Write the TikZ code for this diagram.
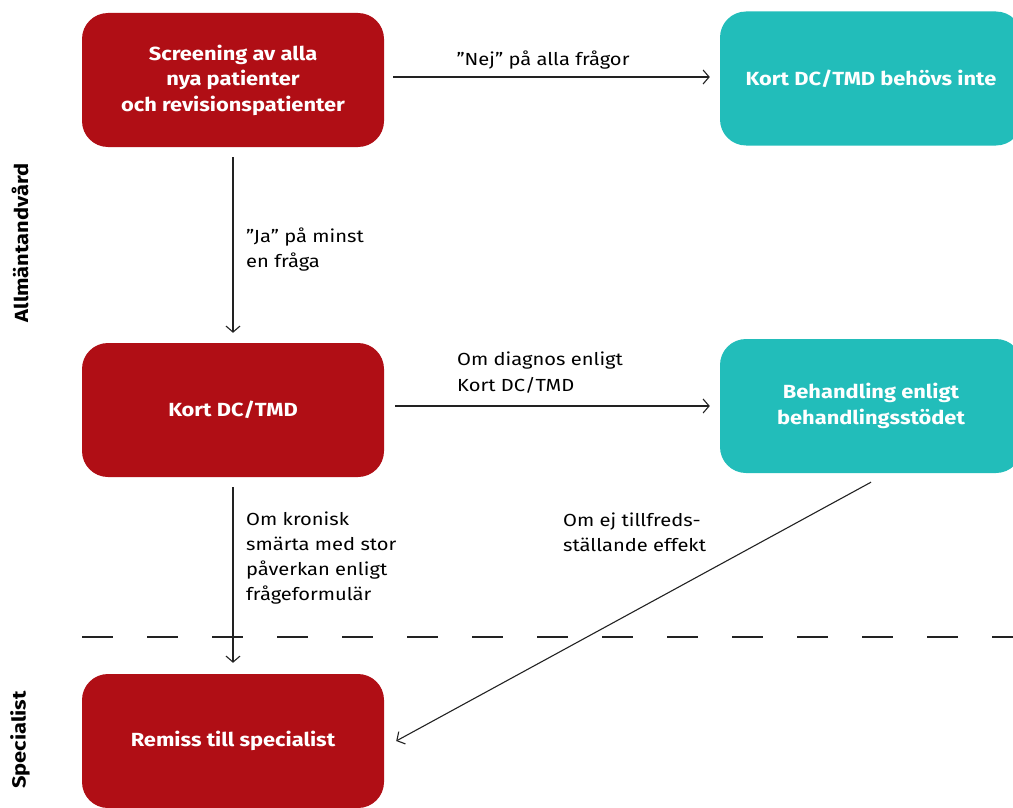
\documentclass[tikz,border=0pt]{standalone}
\usepackage{fontspec}
\setmainfont{Fira Sans}[FakeStretch=1.15]
\usetikzlibrary{arrows.meta}
\definecolor{dred}{HTML}{B00E15}
\definecolor{teal2}{HTML}{22BDBA}
\definecolor{lin}{HTML}{222222}
\begin{document}
\begin{tikzpicture}[x=1pt,y=-1pt,
  redbox/.style={fill=dred,rounded corners=26pt,minimum width=302pt,minimum height=134pt,inner sep=0pt,
    text=white,align=center,font=\fontsize{19}{25.5}\selectfont\bfseries},
  tealbox/.style={redbox,fill=teal2},
  lbl/.style={inner sep=0pt,anchor=west,align=left,text=black,font=\fontsize{17.5}{25.3}\selectfont},
  side/.style={inner sep=0pt,rotate=90,font=\fontsize{19}{22}\selectfont\bfseries},
  arr/.style={draw=lin,line width=1.1pt,-{Straight Barb[length=6pt,width=14pt,line width=1.1pt]}}]
\useasboundingbox (0,0) rectangle (1013,808);
\clip (0,0) rectangle (1013,808);
\node[redbox] (s) at (233,80) {Screening av alla\\nya patienter\\och revisionspatienter};
\node[tealbox] (n) at (871,78.5) {Kort DC/TMD behövs inte};
\node[redbox] (k) at (233,410) {Kort DC/TMD};
\node[tealbox] (b) at (871,406) {Behandling enligt\\behandlingsstödet};
\node[redbox] (r) at (233,741) {Remiss till specialist};
\node[side] (al) at (20,243) {Allmäntandvård};
\node[side] (sp) at (20,740) {Specialist};
\coordinate (d1) at (82,637);
\coordinate (d2) at (1013,637);
\draw[draw=lin,line width=1.1pt,dash pattern=on 31pt off 34pt] (d1) -- (d2);
\draw[arr] ([xshift=9pt]s.east |- 0,77) -- ([xshift=-10pt]n.west |- 0,77);
\draw[arr] ([yshift=-10pt]s.south) -- ([yshift=10pt]k.north);
\draw[arr] ([xshift=11pt]k.east |- 0,406) -- ([xshift=-10pt]b.west);
\draw[arr] ([yshift=-10pt]k.south) -- ([yshift=11pt]r.north);
\draw[arr] ([yshift=-9pt]b.south) -- ([xshift=12pt]r.east);
\node[lbl,anchor=center] (l1) at (543,60) {”Nej” på alla frågor};
\node[lbl] (l2) at (246,249.5) {”Ja” på minst\\en fråga};
\node[lbl] (l3) at (457,372.5) {Om diagnos enligt\\Kort DC/TMD};
\node[lbl] (l4) at (246,558) {Om kronisk\\smärta med stor\\påverkan enligt\\frågeformulär};
\node[lbl] (l5) at (563,532.5) {Om ej tillfreds-\\ställande effekt};
\end{tikzpicture}
\end{document}
